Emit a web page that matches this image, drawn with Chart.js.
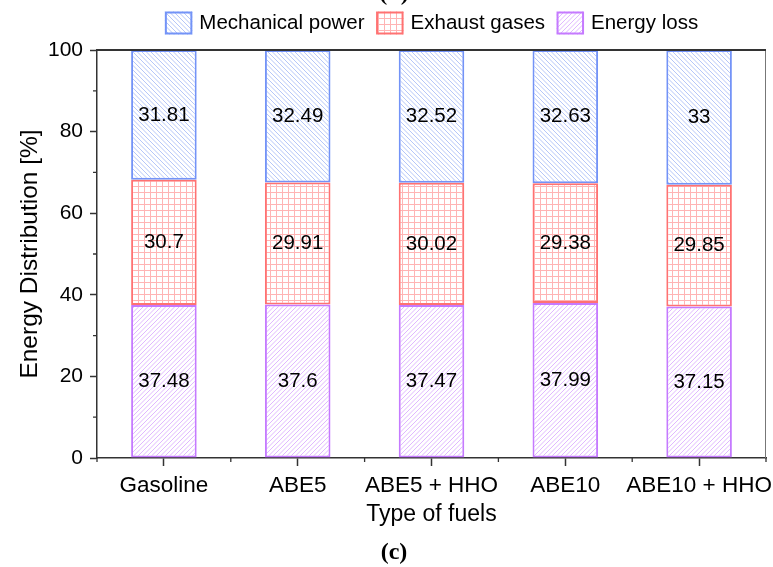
<!DOCTYPE html>
<html>
<head>
<meta charset="utf-8">
<script src="https://cdn.jsdelivr.net/npm/chart.js@4.4.1/dist/chart.umd.min.js"></script>
<style>
  html, body { margin: 0; padding: 0; background: #fff; }
  #wrap { width: 773px; height: 567px; }
</style>
</head>
<body>
<div id="wrap"><canvas id="chart" width="773" height="567"></canvas></div>
<script>
// Energy balance per fuel type, in percent of fuel energy
const fuels = ['Gasoline', 'ABE5', 'ABE5 + HHO', 'ABE10', 'ABE10 + HHO'];
const mechanicalPower = [31.81, 32.49, 32.52, 32.63, 33];
const exhaustGases = [30.7, 29.91, 30.02, 29.38, 29.85];
const energyLoss = [37.48, 37.6, 37.47, 37.99, 37.15];
const yTicks = [0, 20, 40, 60, 80, 100];
const yMinorTicks = [10, 30, 50, 70, 90];

const SANS = '"Liberation Sans", Arial, sans-serif';
const SERIF = '"Liberation Serif", "Times New Roman", serif';

// Hatch fills: back = "\\", fwd = "//", grid = square mesh.
// Diagonals are drawn on a larger tile as soft strokes so the fill stays light.
function hatch(kind, lineColor, pitch) {
  const n = kind === 'grid' ? 1 : 4;
  const size = pitch * n;
  const c = document.createElement('canvas');
  c.width = c.height = size;
  const g = c.getContext('2d');
  g.fillStyle = '#fff';
  g.fillRect(0, 0, size, size);
  g.strokeStyle = lineColor;
  g.fillStyle = lineColor;
  g.lineWidth = 0.9;
  if (kind === 'grid') {
    g.fillRect(0, 0, size, 1);
    g.fillRect(0, 0, 1, size);
    return g.createPattern(c, 'repeat');
  }
  g.beginPath();
  for (let o = -size; o <= 2 * size; o += pitch) {
    if (kind === 'back') { g.moveTo(o, 0); g.lineTo(o + size, size); }
    else { g.moveTo(o, size); g.lineTo(o + size, 0); }
  }
  g.stroke();
  return g.createPattern(c, 'repeat');
}

const BLUE = '#7393f7', RED = '#ff7272', PURPLE = '#c57aff';

// Stack order bottom-to-top; legend lists them top-to-bottom
const datasets = [
  { label: 'Energy loss', data: energyLoss, backgroundColor: hatch('fwd', '#dcb0ff', 4.5), borderColor: PURPLE },
  { label: 'Exhaust gases', data: exhaustGases, backgroundColor: hatch('grid', '#ffb4b4', 6), borderColor: RED },
  { label: 'Mechanical power', data: mechanicalPower, backgroundColor: hatch('back', '#adbff7', 4.5), borderColor: BLUE }
].map(d => Object.assign(d, {
  borderWidth: 2,
  borderSkipped: false,
  categoryPercentage: 1,
  barPercentage: 0.49
}));

const decorations = {
  id: 'decorations',
  afterDatasetsDraw(chart) {
    const ctx = chart.ctx;
    ctx.save();
    ctx.fillStyle = '#000';
    ctx.font = '20.5px ' + SANS;
    ctx.textAlign = 'center';
    ctx.textBaseline = 'middle';
    chart.data.datasets.forEach((ds, i) => {
      chart.getDatasetMeta(i).data.forEach((bar, j) => {
        ctx.fillText(String(ds.data[j]), bar.x, (bar.y + bar.base) / 2);
      });
    });
    ctx.restore();
  },
  afterDraw(chart) {
    const ctx = chart.ctx;
    const { left, right, top, bottom } = chart.chartArea;
    const xs = chart.scales.x, ys = chart.scales.y;
    ctx.save();
    // frame: thin right edge, heavy top edge
    ctx.strokeStyle = '#777';
    ctx.lineWidth = 1;
    ctx.beginPath(); ctx.moveTo(right - 0.5, top); ctx.lineTo(right - 0.5, bottom); ctx.stroke();
    ctx.strokeStyle = '#333';
    ctx.lineWidth = 2;
    ctx.beginPath(); ctx.moveTo(left, top); ctx.lineTo(right, top); ctx.stroke();

    // minor ticks
    ctx.lineWidth = 1.3;
    ctx.strokeStyle = '#333';
    const step = xs.getPixelForValue(1) - xs.getPixelForValue(0);
    ctx.beginPath();
    for (let i = 0; i <= fuels.length; i++) {
      const x = xs.getPixelForValue(0) - step / 2 + i * step;
      ctx.moveTo(x, bottom); ctx.lineTo(x, bottom + 4);
    }
    yMinorTicks.forEach(v => {
      const y = ys.getPixelForValue(v);
      ctx.moveTo(left, y); ctx.lineTo(left - 4, y);
    });
    ctx.stroke();

    // legend row
    ctx.font = '20.5px ' + SANS;
    ctx.textBaseline = 'middle';
    ctx.textAlign = 'left';
    const items = chart.data.datasets.slice().reverse();
    const boxW = 27.5, boxH = 23, gapText = 7, gapItem = 11.5, ly = 23;
    let total = 0;
    items.forEach((d, i) => {
      total += boxW + gapText + ctx.measureText(d.label).width + (i < items.length - 1 ? gapItem : 0);
    });
    let lx = (left + right) / 2 - total / 2;
    items.forEach(d => {
      ctx.fillStyle = d.backgroundColor;
      ctx.fillRect(lx, ly - boxH / 2, boxW, boxH);
      ctx.strokeStyle = d.borderColor;
      ctx.lineWidth = 2;
      ctx.strokeRect(lx + 1, ly - boxH / 2 + 1, boxW - 2, boxH - 2);
      lx += boxW + gapText;
      ctx.fillStyle = '#000';
      ctx.fillText(d.label, lx, ly);
      lx += ctx.measureText(d.label).width + gapItem;
    });

    // panel captions
    ctx.fillStyle = '#000';
    ctx.textAlign = 'center';
    ctx.textBaseline = 'alphabetic';
    ctx.font = 'bold 24px ' + SERIF;
    ctx.fillText('(b)', 394, 0);
    ctx.fillText('(c)', 394, 559);
    ctx.restore();
  }
};

new Chart(document.getElementById('chart'), {
  type: 'bar',
  data: { labels: fuels, datasets },
  plugins: [decorations],
  options: {
    responsive: false,
    animation: false,
    devicePixelRatio: 1,
    layout: { padding: { top: 50, bottom: 39, left: 0, right: 7 } },
    plugins: { legend: { display: false }, tooltip: { enabled: false } },
    scales: {
      x: {
        stacked: true,
        grid: { offset: false, drawOnChartArea: false, tickLength: 8, tickColor: '#333', tickWidth: 1.5 },
        border: { color: '#333', width: 1.5 },
        ticks: { font: { family: SANS, size: 22.5 }, color: '#000', padding: 6, maxRotation: 0, autoSkip: false },
        title: { display: true, text: 'Type of fuels', color: '#000', font: { family: SANS, size: 23 }, padding: { top: 0, bottom: 0 } },
        afterFit(s) { s.height = 70; s.paddingLeft = 0; s.paddingRight = 0; }
      },
      y: {
        stacked: true,
        min: 0,
        max: 100,
        afterBuildTicks(s) { s.ticks = yTicks.map(v => ({ value: v })); },
        grid: { drawOnChartArea: false, tickLength: 7, tickColor: '#333', tickWidth: 1.5 },
        border: { color: '#333', width: 1.5 },
        ticks: { font: { family: SANS, size: 21 }, color: '#000', padding: 7 },
        title: { display: true, text: 'Energy Distribution [%]', color: '#000', font: { family: SANS, size: 24.5 }, padding: { top: 16, bottom: 0 } },
        afterFit(s) { s.width = 97; s.paddingTop = 0; s.paddingBottom = 0; }
      }
    }
  }
});
</script>
</body>
</html>
